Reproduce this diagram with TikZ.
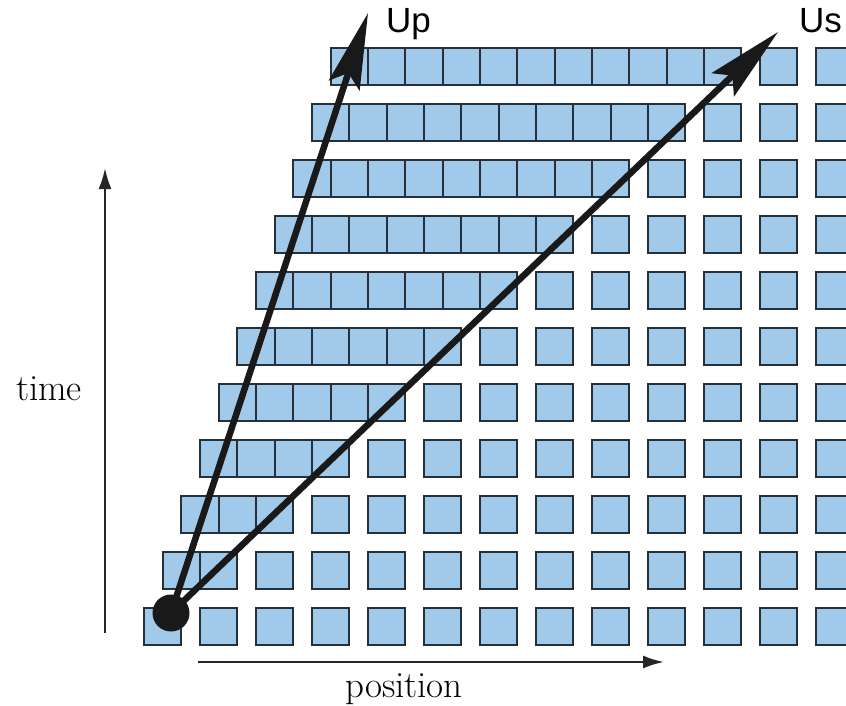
\documentclass[tikz,border=0pt]{standalone}
\usepackage{fontspec}
\usepackage{xcolor}
\usetikzlibrary{arrows.meta}
\newfontfamily\velfont{Liberation Sans}
\definecolor{cellblue}{RGB}{160,201,234}
\definecolor{celledge}{RGB}{38,48,58}

\begin{document}
\begin{tikzpicture}[x=1pt, y=-1pt,
  cell/.style={rectangle, draw=celledge, fill=cellblue, line width=2pt, minimum size=37.3pt, inner sep=0pt},
  vel/.style={line width=6.5pt, draw=black!90, -{Stealth[length=76pt, width=32pt, inset=13pt]}},
  axis/.style={line width=2.2pt, draw=black!85, -{Latex[length=21pt, width=13pt]}},
  txt/.style={inner sep=0pt, anchor=base, font=\fontsize{37}{40}\selectfont},
  veltxt/.style={inner sep=0pt, anchor=base west, font=\velfont\fontsize{35}{38}\selectfont}]
  \useasboundingbox (0,0) rectangle (846,706);
  \clip (0,0) rectangle (846,706);
  \foreach \k in {0,...,10}
    \foreach \j in {0,...,12} {
      \pgfmathsetmacro\cx{\j>\k ? 162.5+56*\j : 162.5+18.7*\k+37.3*\j}
      \node[cell] (c-\k-\j) at (\cx, 626.5-56*\k) {};
    }
  \node[circle, fill=black!90, minimum size=37pt, inner sep=0pt] (src) at (171,613) {};
  \coordinate (tipUp) at (368,13);
  \coordinate (tipUs) at (778,32);
  \draw[vel] (src.center) -- (tipUp);
  \draw[vel] (src.center) -- (tipUs);
  \coordinate (t0) at (105,633);
  \coordinate (t1) at (105,168);
  \coordinate (x0) at (198,662);
  \coordinate (x1) at (664,662);
  \draw[axis] (t0) -- (t1);
  \draw[axis] (x0) -- (x1);
  \node[txt] (timelbl) at (49,400) {time};
  \node[txt] (poslbl) at (404,697) {position};
  \node[veltxt] (uplbl) at (386,33) {Up};
  \node[veltxt] (uslbl) at (799,33) {Us};
\end{tikzpicture}
\end{document}
